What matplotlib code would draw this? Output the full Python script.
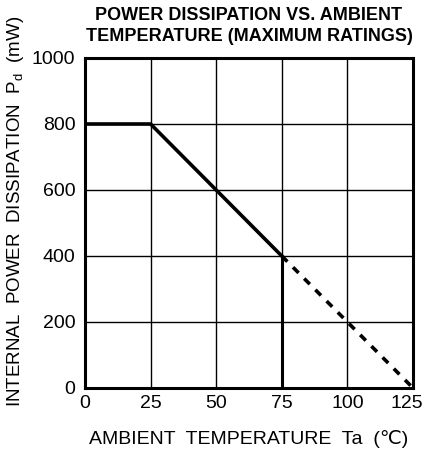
import matplotlib
matplotlib.use("Agg")
import matplotlib.pyplot as plt
from matplotlib.transforms import ScaledTranslation

plt.rcParams['font.family'] = ['Liberation Sans', 'DejaVu Sans']

solid_x = [0, 25, 75]
solid_y = [800, 800, 400]
vert_x = [75, 75]
vert_y = [0, 400]
dash_x = [75, 125]
dash_y = [400, 0]
xticks = [0, 25, 50, 75, 100, 125]
yticks = [0, 200, 400, 600, 800, 1000]

fig = plt.figure(figsize=(4.27, 4.55), dpi=100)
ax = fig.add_axes([85/427, (455-388)/455, 328/427, 330/455])
ax.set_xlim(0, 125)
ax.set_ylim(0, 1000)
ax.set_xticks(xticks)
ax.set_yticks(yticks)
ax.set_xticklabels([str(v) for v in xticks], fontsize=14)
ax.set_yticklabels([str(v) for v in yticks], fontsize=14)
ax.tick_params(axis='x', length=0, pad=5)
ax.tick_params(axis='y', length=0, pad=7)
lbl = ax.get_xticklabels()[-1]
lbl.set_transform(lbl.get_transform() + ScaledTranslation(-6/100, 0, fig.dpi_scale_trans))
ax.grid(True, color='black', linewidth=1.0)
for s in ax.spines.values():
    s.set_linewidth(2.2)
ax.plot(solid_x, solid_y, color='black', linewidth=2.6, solid_capstyle='butt')
ax.plot(vert_x, vert_y, color='black', linewidth=2.2)
ax.plot(dash_x, dash_y, color='black', linewidth=2.6, linestyle=(0, (2.2, 2.2)))
ax.set_xlabel('AMBIENT  TEMPERATURE  Ta  (\u2103)', fontsize=14, labelpad=13)
ax.set_ylabel('INTERNAL  POWER  DISSIPATION  P$_\\mathregular{d}$  (mW)', fontsize=13.5)
ax.yaxis.set_label_coords(-0.18, 0.535)
ax.set_title('POWER DISSIPATION VS. AMBIENT\nTEMPERATURE (MAXIMUM RATINGS)', fontsize=13, fontweight='bold', pad=12, linespacing=1.3)
fig.savefig('out.png', dpi=100)
